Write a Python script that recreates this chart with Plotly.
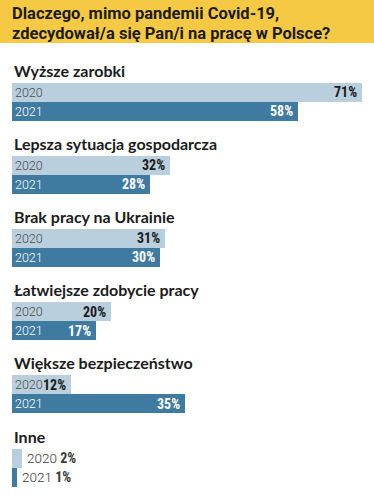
import plotly.graph_objects as go

title_lines = ["Dlaczego, mimo pandemii Covid-19,", "zdecydował/a się Pan/i na pracę w Polsce?"]
categories = ["Wyższe zarobki", "Lepsza sytuacja gospodarcza", "Brak pracy na Ukrainie",
              "Łatwiejsze zdobycie pracy", "Większe bezpieczeństwo", "Inne"]
years = ["2020", "2021"]
values_2020 = [71, 32, 31, 20, 12, 2]
values_2021 = [58, 28, 30, 17, 35, 1]

W, H = 374, 500
LEFT = 12
SCALE = 4.93  # px per percent
PITCH = 73.2
G0 = 70

light = "#bacfdd"
dark = "#3f7aa1"
yellow = "#f5c944"
PCT_FONT = "Liberation Sans Narrow, Roboto Condensed, Roboto"

n = len(categories)
head_y = [G0 + i * PITCH for i in range(n)]
y20 = [h + 22 for h in head_y]
y21 = [h + 41 for h in head_y]

fig = go.Figure()
fig.add_trace(go.Bar(orientation="h", y=y20, x=values_2020, width=19,
                     marker=dict(color=light, line=dict(width=0)), hoverinfo="skip"))
fig.add_trace(go.Bar(orientation="h", y=y21, x=values_2021, width=19,
                     marker=dict(color=dark, line=dict(width=0)), hoverinfo="skip"))

ann = []
shapes = [dict(type="rect", xref="paper", yref="y", x0=0, x1=1, y0=0, y1=43,
               fillcolor=yellow, line=dict(width=0), layer="below")]
for t, yy in zip(title_lines, [13, 33]):
    ann.append(dict(text=t, xref="paper", x=10 / W, yref="y", y=yy, xanchor="left", yanchor="middle",
                    showarrow=False, font=dict(family="Roboto", size=16.5, color="#1b1b1b", weight=700)))

for i, c in enumerate(categories):
    ann.append(dict(text=c, xref="paper", x=LEFT / W, yref="y", y=head_y[i], xanchor="left",
                    yanchor="middle", showarrow=False,
                    font=dict(family="Lato", size=16, color="#1b1b1b", weight=700)))
    for yr, vals, ys, txtcol, pctcol in [(years[0], values_2020, y20, "#4a4a4a", "#1b1b1b"),
                                          (years[1], values_2021, y21, "#ffffff", "#ffffff")]:
        v = vals[i]
        if v * SCALE < 40:
            ann.append(dict(text=f"{yr} <b><span style='font-family:{PCT_FONT};font-size:14px'>{v}%</span></b>",
                            x=v, y=ys[i], xref="x", yref="y",
                            xanchor="left", yanchor="middle", xshift=3, showarrow=False,
                            font=dict(family="Roboto", size=13.5, color="#3a3a3a", weight=300)))
        else:
            ann.append(dict(text=yr, x=0, y=ys[i], xref="x", yref="y", xanchor="left",
                            yanchor="middle", xshift=1, showarrow=False,
                            font=dict(family="Roboto", size=12.5, color=txtcol, weight=300)))
            ann.append(dict(text=f"{v}%", x=v, y=ys[i], xref="x", yref="y", xanchor="right",
                            yanchor="middle", xshift=-3, showarrow=False,
                            font=dict(family=PCT_FONT, size=14, color=pctcol, weight=700)))

fig.update_layout(
    width=W, height=H, margin=dict(l=0, r=0, t=0, b=0),
    paper_bgcolor="white", plot_bgcolor="white",
    showlegend=False, barmode="overlay", bargap=0,
    xaxis=dict(range=[-LEFT / SCALE, (W - LEFT) / SCALE], visible=False, fixedrange=True),
    yaxis=dict(range=[H, 0], visible=False, fixedrange=True),
    annotations=ann, shapes=shapes,
)
fig.write_html("out.html", config={"displayModeBar": False},
               post_script="document.body.style.margin='0';document.body.style.overflow='hidden';")
